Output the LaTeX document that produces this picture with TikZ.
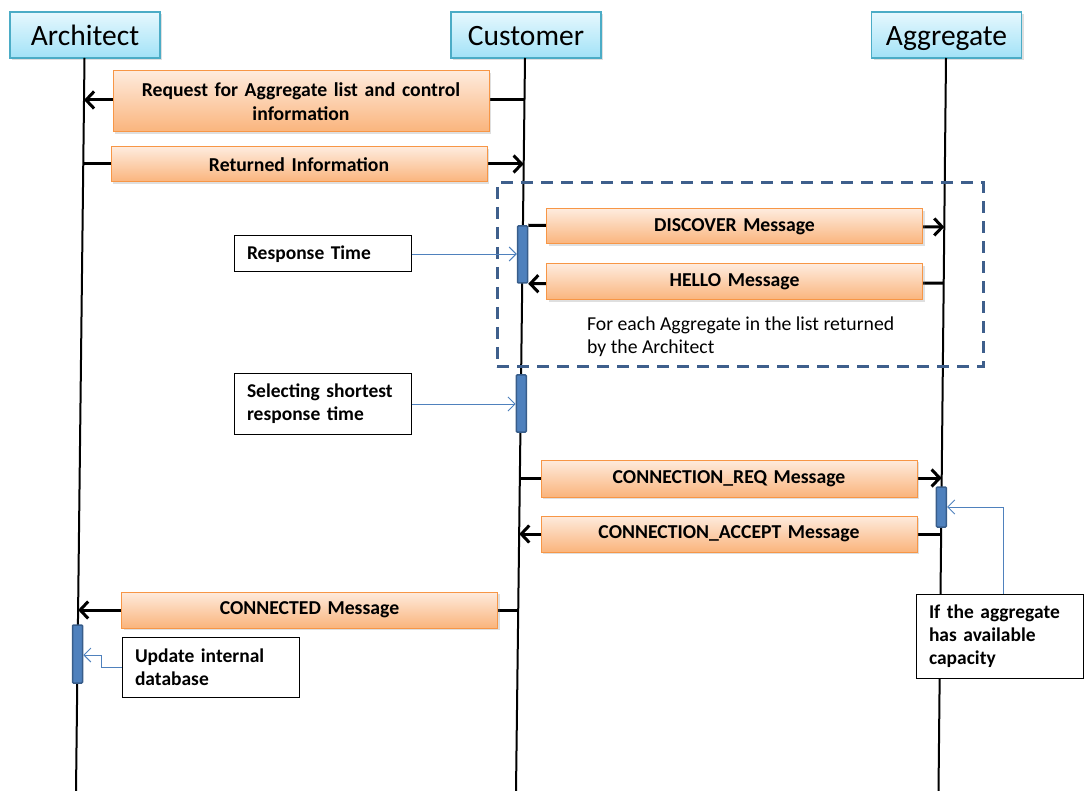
\documentclass[tikz,border=0pt]{standalone}
\usepackage{fontspec}
\setmainfont{Carlito}
\usetikzlibrary{arrows.meta,shadows}
\definecolor{orB}{HTML}{F79646}
\definecolor{orT}{HTML}{FEEBDD}
\definecolor{orBot}{HTML}{FAB47C}
\definecolor{cyB}{HTML}{4BACC6}
\definecolor{cyT}{HTML}{E6F8FE}
\definecolor{cyBot}{HTML}{A2E2F7}
\definecolor{actF}{HTML}{4F81BD}
\definecolor{actD}{HTML}{385D8A}
\definecolor{dashC}{HTML}{3E5F8C}
\begin{document}
\begin{tikzpicture}[x=1pt,y=-1pt,
  header/.style={draw=cyB, line width=1.2pt, top color=cyT, bottom color=cyBot,
    minimum width=150pt, minimum height=46pt, inner sep=0pt,
    text height=20.5pt, text depth=0pt,
    font=\fontsize{29.5}{34}\selectfont,
    drop shadow={opacity=0.25,shadow xshift=2pt,shadow yshift=-2pt}},
  msg/.style={draw=orB, line width=1pt, top color=orT, bottom color=orBot,
    inner xsep=4pt, inner ysep=0pt, align=center, text width=368pt,
    font=\bfseries\fontsize{19.7}{23.5}\selectfont,
    drop shadow={opacity=0.25,shadow xshift=2pt,shadow yshift=-2pt}},
  note/.style={draw=black, line width=1pt, fill=white, inner xsep=13pt, inner ysep=0pt,
    align=left, font=\bfseries\fontsize{19.5}{23}\selectfont},
  act/.style={draw=actD, fill=actF, line width=1.5pt, rounded corners=1pt,
    minimum width=10pt, inner sep=0pt},
  life/.style={line width=2pt, black},
  msgarrow/.style={line width=3pt, -{Straight Barb[length=8pt,width=17pt]}},
  callout/.style={draw=actF, line width=0.9pt, -{Straight Barb[length=7pt,width=14pt,line width=0.9pt]}}
]
\useasboundingbox (0,0) rectangle (1084,791);

% headers
\node[header] (arch) at (85,35) {Architect};
\node[header] (cust) at (526,35) {Customer};
\node[header] (aggr) at (946.5,35) {Aggregate};

% lifeline ends
\coordinate (archEnd) at (76,791);
\coordinate (custEnd) at (516,791);
\coordinate (aggrEnd) at (938.5,791);
\draw[life] (84.5,58) coordinate (archTop) -- (archEnd);
\draw[life] (525,58) coordinate (custTop) -- (custEnd);
\draw[life] (946,58) coordinate (aggrTop) -- (aggrEnd);

% points on lifelines
\coordinate (a100) at (84.0,100);
\coordinate (c100) at (524.5,100);
\coordinate (a164) at (83.3,164);
\coordinate (c164) at (523.7,164);
\coordinate (g227) at (944.3,227);
\coordinate (g283) at (943.7,283);
\coordinate (c478) at (519.8,478);
\coordinate (g478) at (941.7,478);
\coordinate (c534) at (519.2,534);
\coordinate (g534) at (941.1,534);
\coordinate (c610) at (518.2,610);
\coordinate (a610) at (78.1,610);

% loop frame
\node[draw=dashC, line width=3pt, dash pattern=on 12pt off 8pt, minimum width=486pt,
  minimum height=184pt, inner sep=0pt] (loop) at (740,275) {};
\node[anchor=west, inner sep=0pt, align=left, font=\fontsize{19.7}{23}\selectfont] (looptxt)
  at (587,336.5) {For each Aggregate in the list returned\\by the Architect};

% activation bars
\node[act, minimum height=57pt] (act1) at (522.5,254.5) {};
\node[act, minimum height=57pt] (act2) at (521.3,403.5) {};
\node[act, minimum height=40pt] (act3) at (941.4,507) {};
\node[act, minimum height=58pt] (act4) at (77.5,654) {};

% message arrows
\draw[msgarrow] (c100) -- (a100);
\draw[msgarrow] (a164) -- (c164);
\draw[msgarrow] (act1.north east) -- (g227);
\draw[msgarrow] (g283) -- (act1.south east);
\draw[msgarrow] (c478) -- (g478);
\draw[msgarrow] (g534) -- (c534);
\draw[msgarrow] (c610) -- (a610);

% message boxes
\node[msg, minimum height=61pt] (m1) at (301,101.5) {Request for Aggregate list and control\\information};
\node[msg, minimum height=35pt] (m2) at (299,164.5) {Returned Information};
\node[msg, minimum height=35pt] (m3) at (734.5,226.5) {DISCOVER Message};
\node[msg, minimum height=36pt] (m4) at (734.5,282) {HELLO Message};
\node[msg, minimum height=37pt] (m5) at (729,478.5) {CONNECTION\_REQ Message};
\node[msg, minimum height=36pt] (m6) at (729,534) {CONNECTION\_ACCEPT Message};
\node[msg, minimum height=36pt] (m7) at (309.5,610) {CONNECTED Message};

% notes
\node[note, text width=151pt, minimum height=36pt] (n1) at (322.5,254) {Response Time};
\node[note, text width=151pt, minimum height=60pt] (n2) at (322.5,404) {Selecting shortest\\response time};
\node[note, text width=151pt, minimum height=60pt] (n3) at (210.5,667) {Update internal\\database};
\node[note, text width=141pt, minimum height=84pt] (n4) at (999.5,636) {If the aggregate\\has available\\capacity};

% callouts
\draw[callout] (n1.east) -- (n1.east -| act1.west);
\draw[callout] (n2.east) -- (n2.east -| act2.west);
\coordinate (k1) at (1003,507);
\draw[callout] (n4.north -| k1) -- (k1) -- (act3.east |- k1);
\coordinate (k2) at (101,667);
\coordinate (k3) at (101,655);
\draw[callout] (n3.west) -- (k2) -- (k3) -- (act4.east |- k3);
\end{tikzpicture}
\end{document}
